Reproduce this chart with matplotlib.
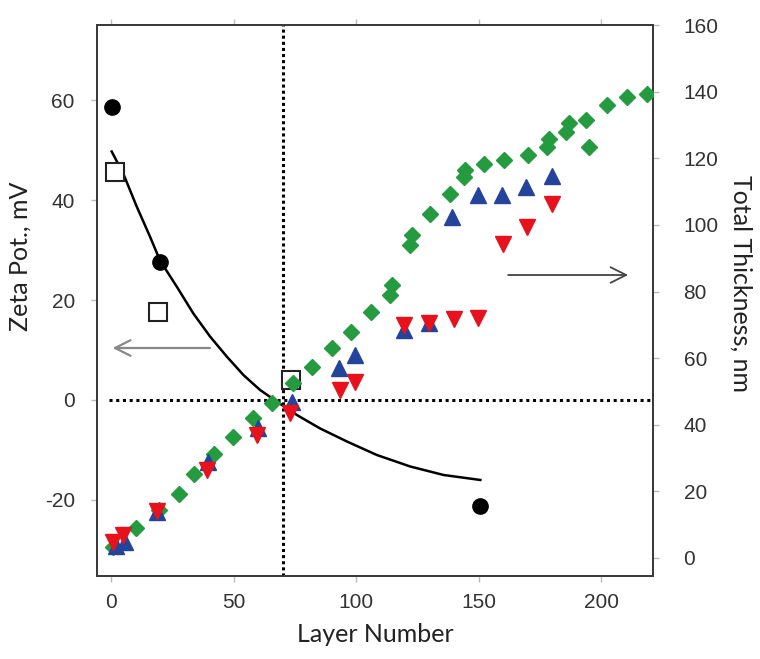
import numpy as np
import matplotlib
matplotlib.use('Agg')
import matplotlib.pyplot as plt

plt.rcParams['font.family']=['Liberation Sans','DejaVu Sans']
plt.rcParams['axes.unicode_minus']=False

###Zeta potential (left axis)###
zetaCircX=[0.5,20,150.5]
zetaCircY=[58.6,27.6,-21.2]
zetaSqX=[1.5,19,73.5]
zetaSqY=[45.6,17.6,4.0]
# fitted curve
curveX=[0.3,5,10.5,15.9,20,26.8,33.6,40.4,47.2,54,60.8,67.6,70.3,75.8,85.3,96.2,108.4,122,135.6,150.6]
curveY=[49.7,45.3,38.7,32.7,27.9,22.7,17.3,12.7,8.7,5.0,2.0,-0.3,-1.2,-3.0,-5.7,-8.3,-11.0,-13.3,-15.0,-16.0]

###Total thickness (right axis)###
greenX=[0.9,10.2,19.7,27.9,34,42.2,49.7,57.8,65.6,74.4,81.9,90,97.8,106,113.6,114.6,121.8,122.7,
	130.2,138.1,143.8,144.5,152,160.4,170,177.8,178.5,185.6,186.6,193.7,194.8,202.3,210.5,218.4]
greenY=[3.4,8.9,14.4,19.2,25.2,31.2,36.4,41.9,46.6,52.4,57.4,63.1,67.7,73.9,78.9,81.9,93.9,96.9,
	103.4,109.4,114.4,116.4,118.4,119.4,120.9,123.4,125.9,127.9,130.6,131.4,123.4,135.9,138.4,139.4]
blueX=[2,5.7,18.6,39.7,60.1,73.7,93,99.6,119.3,129.5,139,149.7,159.5,169.4,179.9]
blueY=[3.5,4.9,13.9,28.9,38.9,46.9,56.9,60.9,68.4,70.4,102.4,108.9,108.9,111.4,114.6]
redX=[1,5,18.6,39.3,59.5,73,93.5,99.6,119.3,129.5,139.7,149.5,159.7,169.7,179.9]
redY=[4.9,6.9,14.2,26.4,36.9,43.4,50.4,52.9,69.9,70.4,71.6,71.9,94.4,99.4,106.4]

###Annotation arrows (zeta axis coords)###
arrowLeft=[(41.5,10.4),(-0.5,10.4)]
arrowRight=[(160.8,25.0),(212.0,25.0)]

xTicks=[0,50,100,150,200]
zetaTicks=[-20,0,20,40,60]
thickTicks=[0,20,40,60,80,100,120,140,160]


def styleAxis(ax):
	for s in ax.spines.values():
		s.set_color('#3a3a3a')
		s.set_linewidth(1.3)
	ax.tick_params(direction='out',length=4,width=1,color='#bbbbbb',labelcolor='#333333',labelsize=15,pad=8)


def plotZeta(ax):
	ax.plot(curveX,curveY,'-',color='black',lw=1.8,zorder=3)
	ax.plot(zetaCircX,zetaCircY,'o',color='black',ms=11,zorder=4)
	ax.plot(zetaSqX,zetaSqY,'s',mfc='white',mec='#222222',mew=1.5,ms=13,zorder=4)
	ax.axvline(70,color='black',ls=(0,(1,1)),lw=2.2,zorder=2)
	ax.hlines(0,-1,220,color='black',ls=(0,(1,1.2)),lw=2.2,zorder=2)
	ax.annotate('',xy=arrowLeft[1],xytext=arrowLeft[0],
		arrowprops=dict(arrowstyle='->',color='#888888',lw=1.6,mutation_scale=28))
	ax.annotate('',xy=arrowRight[1],xytext=arrowRight[0],
		arrowprops=dict(arrowstyle='->',color='#444444',lw=1.3,mutation_scale=28))
	ax.set_xlim(-5.7,221)
	ax.set_ylim(-35.2,75)
	ax.set_xticks(xTicks)
	ax.set_yticks(zetaTicks)
	ax.tick_params(axis='y',pad=12)
	ax.tick_params(top=True)
	ax.set_ylabel('Zeta Pot., mV',fontsize=18,family='Lato',color='#222222')
	ax.set_xlabel('Layer Number',fontsize=18,family='Lato',color='#222222',labelpad=8)
	ax.yaxis.set_label_coords(-0.118,0.58)


def plotThickness(ax):
	ax.plot(greenX,greenY,'D',color='#239b3e',ms=8,mec='#239b3e',zorder=3)
	ax.plot(blueX,blueY,'^',color='#24449c',ms=11,zorder=4)
	ax.plot(redX,redY,'v',color='#e8121c',ms=11,zorder=5)
	ax.set_ylim(-5.4,160)
	ax.set_yticks(thickTicks)
	ax.tick_params(axis='y',pad=18)
	ax.set_ylabel('Total Thickness, nm',fontsize=18,family='Lato',color='#222222',rotation=270)
	ax.yaxis.set_label_coords(1.178,0.53)


def main():
	fig=plt.figure(figsize=(7.6,6.59),dpi=100)
	ax1=fig.add_axes([0.1276,0.126,0.7316,0.836])
	ax2=ax1.twinx()
	styleAxis(ax1)
	styleAxis(ax2)
	plotZeta(ax1)
	plotThickness(ax2)
	fig.savefig('out.png',dpi=100)


if __name__ == "__main__":
	main()
